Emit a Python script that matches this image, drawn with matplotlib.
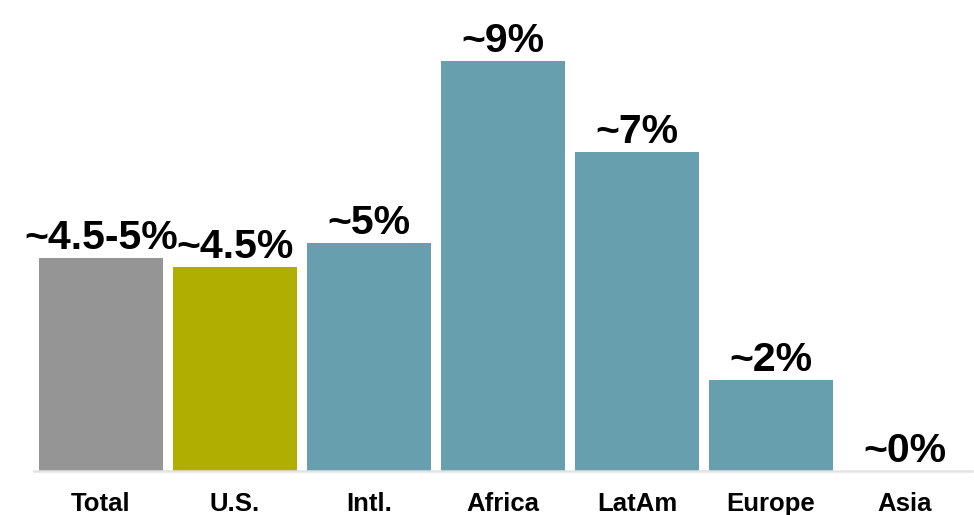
import matplotlib.pyplot as plt

categories = ["Total", "U.S.", "Intl.", "Africa", "LatAm", "Europe", "Asia"]
values = [4.67, 4.47, 5.0, 9.0, 7.0, 2.0, 0.0]
labels = ["~4.5-5%", "~4.5%", "~5%", "~9%", "~7%", "~2%", "~0%"]
colors = ["#959595", "#b0ae00", "#689fae", "#689fae", "#689fae", "#689fae", "#689fae"]

plt.rcParams['font.family'] = ['Liberation Sans', 'DejaVu Sans']

fig = plt.figure(figsize=(9.74, 5.15), dpi=100)
ax = fig.add_axes([34 / 974, 1 - 471 / 515, 938 / 974, 471 / 515])

x = range(len(categories))
ax.bar(x, values, width=0.93, color=colors, edgecolor='none')

for i, (v, lab) in enumerate(zip(values, labels)):
    ax.text(i, v + 0.2, lab, ha='center', va='baseline', fontsize=29.5, fontweight='bold', color='#000000')

ax.set_xlim(-0.5, 6.5)
ax.set_ylim(0, 9 * 471 / 410)
ax.set_xticks(list(x))
ax.set_xticklabels(categories, fontsize=18.5, fontweight='bold')
ax.tick_params(axis='x', length=0, pad=15)
ax.set_yticks([])

for s in ['top', 'right', 'left']:
    ax.spines[s].set_visible(False)
ax.spines['bottom'].set_color('#e3e3e3')
ax.spines['bottom'].set_linewidth(1.8)

fig.savefig('out.png', dpi=100)
